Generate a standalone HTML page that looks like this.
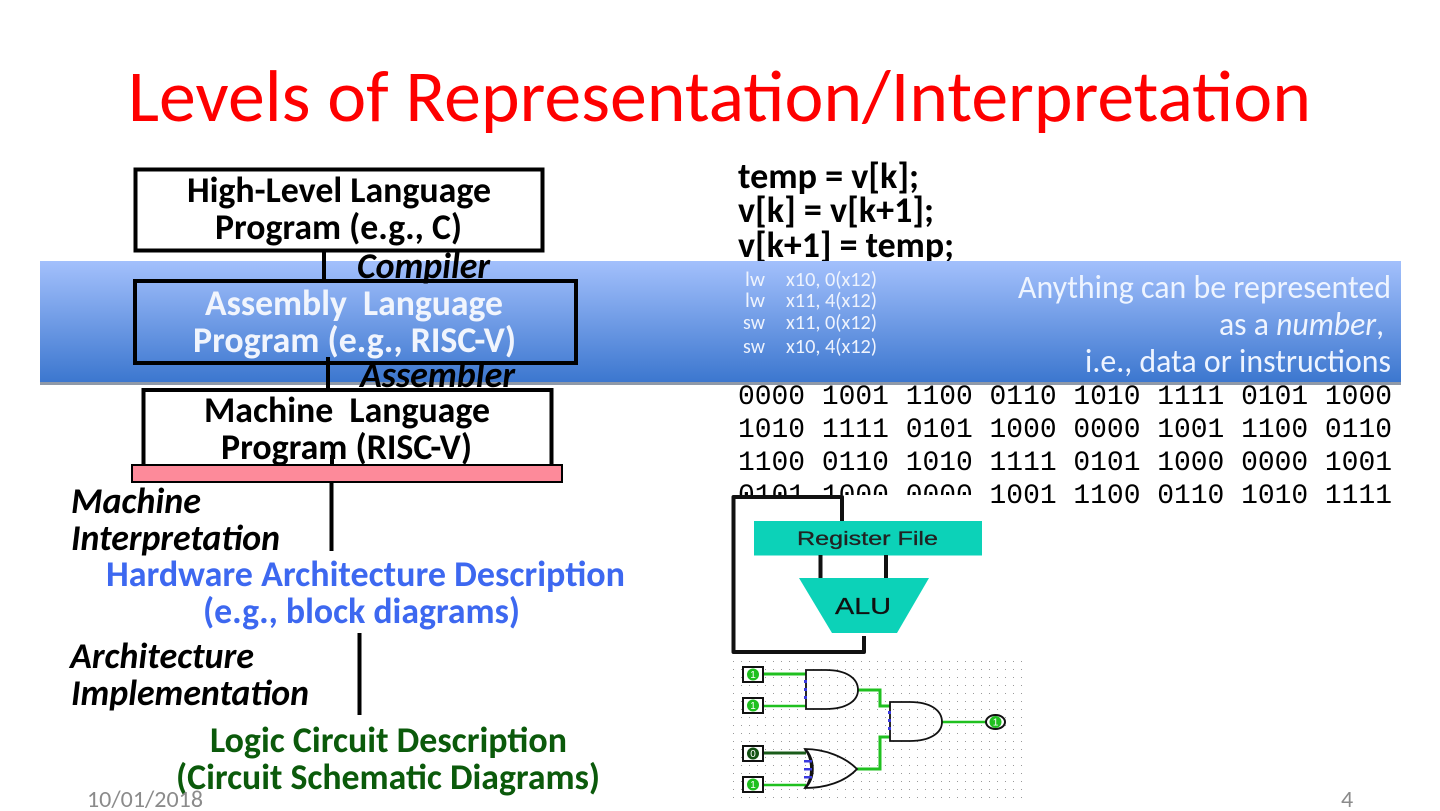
<!DOCTYPE html>
<html><head><meta charset="utf-8"><style>
html,body{margin:0;padding:0;background:#fff;width:1440px;height:811px;overflow:hidden}
svg{display:block}
text{font-family:"Carlito","Liberation Sans",sans-serif}
.b{font-weight:700;font-size:36px}
.bi{font-weight:700;font-style:italic;font-size:36px}
.m{font-family:"Liberation Mono",monospace!important;font-size:28px;fill:#000}
.w{fill:#eef3fd;font-size:20px}
.a{fill:#eef4ff;font-size:33px}
.n{font-size:10px;fill:#fff;text-anchor:middle;font-family:"Liberation Sans",sans-serif!important}
</style></head><body>
<svg width="1440" height="811" viewBox="0 0 1440 811" xmlns="http://www.w3.org/2000/svg">
<defs>
<linearGradient id="g" x1="0" y1="0" x2="0" y2="1"><stop offset="0" stop-color="#a3c0fc"/><stop offset="1" stop-color="#3c77cf"/></linearGradient>
<pattern id="dots" x="730" y="658" width="8" height="8" patternUnits="userSpaceOnUse"><rect x="3" y="3" width="1" height="1" fill="#999"/></pattern>
</defs>
<text x="128" y="121" font-size="73" fill="#fe0000" textLength="1183" lengthAdjust="spacingAndGlyphs">Levels of Representation/Interpretation</text>

<text class="b" x="738" y="188" textLength="181" lengthAdjust="spacingAndGlyphs">temp = v[k];</text>
<text class="b" x="738" y="222" textLength="196" lengthAdjust="spacingAndGlyphs">v[k] = v[k+1];</text>
<text class="b" x="738" y="257" textLength="216" lengthAdjust="spacingAndGlyphs">v[k+1] = temp;</text>

<text class="m" x="738" y="404" textLength="654" lengthAdjust="spacingAndGlyphs">0000 1001 1100 0110 1010 1111 0101 1000</text>
<text class="m" x="738" y="437" textLength="654" lengthAdjust="spacingAndGlyphs">1010 1111 0101 1000 0000 1001 1100 0110</text>
<text class="m" x="738" y="470" textLength="654" lengthAdjust="spacingAndGlyphs">1100 0110 1010 1111 0101 1000 0000 1001</text>
<text class="m" x="738" y="503" textLength="654" lengthAdjust="spacingAndGlyphs">0101 1000 0000 1001 1100 0110 1010 1111</text>

<rect x="40" y="261" width="1361" height="121" fill="url(#g)"/>
<rect x="40" y="382" width="1361" height="3" fill="#8f99a8"/>

<g fill="none" stroke="#000">
<rect x="135.500" y="169.500" width="407" height="81" stroke-width="4" fill="#fff"/>
<rect x="135" y="281" width="441" height="82" stroke-width="4"/>
<path d="M143.500 464V390H551.500V464" stroke-width="4" fill="#fff"/>
<path d="M324 252V280" stroke-width="4"/>
<path d="M328 357V389" stroke-width="4"/>
<path d="M332 455V466M331.500 482V551M359.500 633V715" stroke-width="4"/>
</g>
<rect x="132" y="465" width="430" height="17" fill="#fd8a9a" stroke="#000" stroke-width="2"/>

<text class="b" x="187" y="202" textLength="304" lengthAdjust="spacingAndGlyphs">High-Level Language</text>
<text class="b" x="215" y="239" textLength="247" lengthAdjust="spacingAndGlyphs">Program (e.g., C)</text>
<text class="bi" x="357" y="278" textLength="133" lengthAdjust="spacingAndGlyphs">Compiler</text>
<text class="b" x="205" y="315" fill="#f1f5fd" textLength="298" lengthAdjust="spacingAndGlyphs" xml:space="preserve">Assembly  Language</text>
<text class="b" x="193" y="352" fill="#f1f5fd" textLength="323" lengthAdjust="spacingAndGlyphs">Program (e.g., RISC-V)</text>
<text class="bi" x="360" y="387" textLength="155" lengthAdjust="spacingAndGlyphs">Assembler</text>
<text class="b" x="204" y="422" textLength="286" lengthAdjust="spacingAndGlyphs" xml:space="preserve">Machine  Language</text>
<text class="b" x="221" y="459" textLength="251" lengthAdjust="spacingAndGlyphs">Program (RISC-V)</text>

<text class="bi" x="71" y="513" textLength="130" lengthAdjust="spacingAndGlyphs">Machine</text>
<text class="bi" x="71" y="550" textLength="209" lengthAdjust="spacingAndGlyphs">Interpretation</text>
<text class="b" x="106" y="586" fill="#3d68f0" textLength="519" lengthAdjust="spacingAndGlyphs">Hardware Architecture Description</text>
<text class="b" x="203" y="623" fill="#3d68f0" textLength="317" lengthAdjust="spacingAndGlyphs">(e.g., block diagrams)</text>
<text class="bi" x="70" y="668" textLength="184" lengthAdjust="spacingAndGlyphs">Architecture</text>
<text class="bi" x="71" y="705" textLength="238" lengthAdjust="spacingAndGlyphs">Implementation</text>
<text class="b" x="210" y="752" fill="#0b5a0b" textLength="357" lengthAdjust="spacingAndGlyphs">Logic Circuit Description</text>
<text class="b" x="176" y="789" fill="#0b5a0b" textLength="424" lengthAdjust="spacingAndGlyphs">(Circuit Schematic Diagrams)</text>
<text x="87" y="807" font-size="24" fill="#8b8b8b" textLength="116" lengthAdjust="spacingAndGlyphs">10/01/2018</text>
<text x="1341" y="807" font-size="24" fill="#8b8b8b">4</text>

<text class="w" x="745" y="286" textLength="20" lengthAdjust="spacingAndGlyphs">lw</text><text class="w" x="786" y="286" textLength="91" lengthAdjust="spacingAndGlyphs">x10, 0(x12)</text>
<text class="w" x="745" y="307" textLength="20" lengthAdjust="spacingAndGlyphs">lw</text><text class="w" x="786" y="307" textLength="91" lengthAdjust="spacingAndGlyphs">x11, 4(x12)</text>
<text class="w" x="743" y="329" textLength="22" lengthAdjust="spacingAndGlyphs">sw</text><text class="w" x="786" y="329" textLength="91" lengthAdjust="spacingAndGlyphs">x11, 0(x12)</text>
<text class="w" x="743" y="353" textLength="22" lengthAdjust="spacingAndGlyphs">sw</text><text class="w" x="786" y="353" textLength="91" lengthAdjust="spacingAndGlyphs">x10, 4(x12)</text>
<text class="a" x="1018" y="298" textLength="373" lengthAdjust="spacingAndGlyphs">Anything can be represented</text>
<text class="a" x="1219" y="335" textLength="165" lengthAdjust="spacingAndGlyphs">as a <tspan font-style="italic">number</tspan>,</text>
<text class="a" x="1085" y="372" textLength="306" lengthAdjust="spacingAndGlyphs">i.e., data or instructions</text>

<!-- CPU block image -->
<rect x="722" y="495" width="266" height="160" fill="#fff"/>
<path d="M842 521V497H733.500V652H864V636" fill="none" stroke="#111" stroke-width="4" stroke-linejoin="round"/>
<rect x="754" y="521" width="228" height="34.500" fill="#0cd2b8"/>
<path d="M820.500 555V578M886 555V578" stroke="#111" stroke-width="4"/>
<polygon points="799,578 929,578 897,633 832,633" fill="#0cd2b8"/>
<text x="797" y="545" style="font-family:'Liberation Sans',sans-serif" font-size="19" fill="#222" stroke="#222" stroke-width="0.300" textLength="141" lengthAdjust="spacingAndGlyphs">Register File</text>
<text x="835" y="614" style="font-family:'Liberation Sans',sans-serif" font-size="23" fill="#111" stroke="#111" stroke-width="0.300" textLength="56" lengthAdjust="spacingAndGlyphs">ALU</text>

<!-- Circuit -->
<rect x="730" y="658" width="292" height="146" fill="url(#dots)"/>
<g fill="none" stroke="#1fc01f" stroke-width="3">
<path d="M763 674H806"/><path d="M763 706H806" stroke-width="2.500"/>
<path d="M858 690H880V706H890"/><path d="M857 769H880V737H890"/>
<path d="M942 722H987" stroke-width="2.500"/><path d="M763 785H806" stroke-width="2.500"/>
<path d="M763 753H806" stroke="#1a5c1a"/>
</g>
<g fill="none" stroke="#111" stroke-width="1.800">
<path d="M806 670H826C846 670 858 678 858 690C858 701 846 709 826 709H806Z"/>
<path d="M890 702H910C930 702 942 710 942 722C942 733 930 741 910 741H890Z"/>
<path d="M805 749C813 760 813 778 805 788C825 788 845 782 857 769C845 757 825 749 805 749Z"/>
</g>
<path d="M805 749C815 760 815 778 805 788" fill="none" stroke="#111" stroke-width="2.500"/>
<g fill="#3a3ae0">
<rect x="804" y="680" width="3" height="3"/><rect x="804" y="688" width="3" height="3"/><rect x="804" y="696" width="3" height="3"/>
<rect x="888" y="711" width="3" height="3"/><rect x="888" y="719" width="3" height="3"/><rect x="888" y="727" width="3" height="3"/>
<rect x="804" y="760" width="8" height="2.500"/><rect x="804" y="768" width="8" height="2.500"/><rect x="804" y="776" width="8" height="2.500"/>
</g>
<g fill="#fff" stroke="#111" stroke-width="2">
<rect x="743" y="667" width="20" height="15"/><rect x="743" y="698" width="20" height="15"/>
<rect x="743" y="746" width="20" height="15"/><rect x="743" y="777" width="20" height="15"/>
<ellipse cx="995.500" cy="722" rx="9.500" ry="7"/>
</g>
<g fill="#1fc01f">
<circle cx="753" cy="674.500" r="6"/><circle cx="753" cy="705.500" r="6"/><circle cx="753" cy="784.500" r="6"/><circle cx="995.500" cy="722" r="6"/>
</g>
<circle cx="753" cy="753.500" r="6" fill="#145214"/>
<text class="n" x="753" y="678">1</text><text class="n" x="753" y="709">1</text><text class="n" x="753" y="757">0</text><text class="n" x="753" y="788">1</text><text class="n" x="995.500" y="725.500">1</text>
</svg>
</body></html>
